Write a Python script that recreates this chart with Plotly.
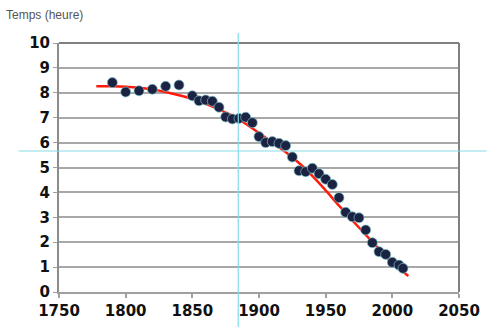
import plotly.graph_objects as go

years = [1790, 1800, 1810, 1820, 1830, 1840, 1850, 1855, 1860, 1865, 1870, 1875,
         1880, 1885, 1890, 1895, 1900, 1905, 1910, 1915, 1920, 1925, 1930, 1935,
         1940, 1945, 1950, 1955, 1960, 1965, 1970, 1975, 1980, 1985, 1990, 1995,
         2000, 2005, 2008]
hours = [8.41, 8.03, 8.08, 8.14, 8.26, 8.31, 7.88, 7.68, 7.71, 7.66, 7.42, 7.03,
         6.95, 6.97, 7.02, 6.80, 6.24, 6.00, 6.04, 5.97, 5.88, 5.42, 4.87, 4.83,
         4.97, 4.75, 4.53, 4.32, 3.79, 3.20, 3.02, 2.98, 2.49, 1.98, 1.62, 1.51,
         1.19, 1.08, 0.95]

trend_years = [1778, 1790, 1800, 1810, 1820, 1830, 1840, 1850, 1860, 1870, 1880,
               1890, 1900, 1910, 1920, 1930, 1940, 1950, 1960, 1970, 1980, 1990,
               2000, 2012]
trend_hours = [8.26, 8.26, 8.24, 8.20, 8.13, 8.03, 7.90, 7.75, 7.56, 7.33, 7.08,
               6.76, 6.38, 6.00, 5.62, 5.18, 4.66, 4.08, 3.47, 2.88, 2.30, 1.73,
               1.18, 0.64]

x_ticks = [1750, 1800, 1850, 1900, 1950, 2000, 2050]
y_ticks = list(range(0, 11))
y_title = "Temps (heure)"

fig = go.Figure()
fig.add_trace(go.Scatter(
    x=trend_years, y=trend_hours, mode="lines",
    line=dict(color="#ff1a0a", width=2.5, shape="spline", smoothing=0.8),
    hoverinfo="skip", showlegend=False))
fig.add_trace(go.Scatter(
    x=years, y=hours, mode="markers",
    marker=dict(size=10, color="#1c2242",
                line=dict(color="rgba(120,190,200,0.7)", width=1)),
    showlegend=False))

tick_font = dict(family="DejaVu Sans", size=15, color="#111111", weight="bold")

fig.update_xaxes(
    range=[1750, 2050], tickvals=x_ticks, ticktext=[str(v) for v in x_ticks],
    showgrid=False, zeroline=False, showline=True, linecolor="#a0a0a0", linewidth=2,
    ticks="outside", ticklen=4, tickcolor="#a0a0a0", tickwidth=1.5,
    tickfont=tick_font)
fig.update_yaxes(
    range=[0, 10], tickvals=y_ticks, ticktext=[str(v) for v in y_ticks],
    showgrid=True, gridcolor="#a8a8a8", gridwidth=1.5, zeroline=False,
    showline=True, linecolor="#8c8c8c", linewidth=2,
    ticks="outside", ticklen=4, tickcolor="#a0a0a0",
    tickfont=tick_font)

shapes = [
    dict(type="line", xref="paper", yref="paper", x0=0, x1=1, y0=1, y1=1,
         line=dict(color="#808080", width=2)),
    dict(type="line", xref="paper", yref="paper", x0=1, x1=1, y0=0, y1=1,
         line=dict(color="#808080", width=2)),
    dict(type="line", xref="paper", yref="paper", x0=(240.5-59)/405, x1=(240.5-59)/405,
         y0=(292-327)/249, y1=(292-33)/249, line=dict(color="#86dbe8", width=1.2)),
    dict(type="line", xref="paper", yref="paper", x0=(18-59)/405, x1=(492-59)/405,
         y0=(292-151)/249, y1=(292-151)/249, line=dict(color="#86dbe8", width=1.2)),
]

fig.update_layout(
    width=492, height=333,
    margin=dict(l=59, r=28, t=43, b=41),
    paper_bgcolor="white", plot_bgcolor="white",
    shapes=shapes,
    annotations=[dict(text=y_title, xref="paper", yref="paper",
                      x=(3-59)/405, y=(292-15)/249, xanchor="left", yanchor="middle",
                      showarrow=False,
                      font=dict(family="Liberation Sans", size=12, color="#555555"))],
)

fig.write_html("out.html")
